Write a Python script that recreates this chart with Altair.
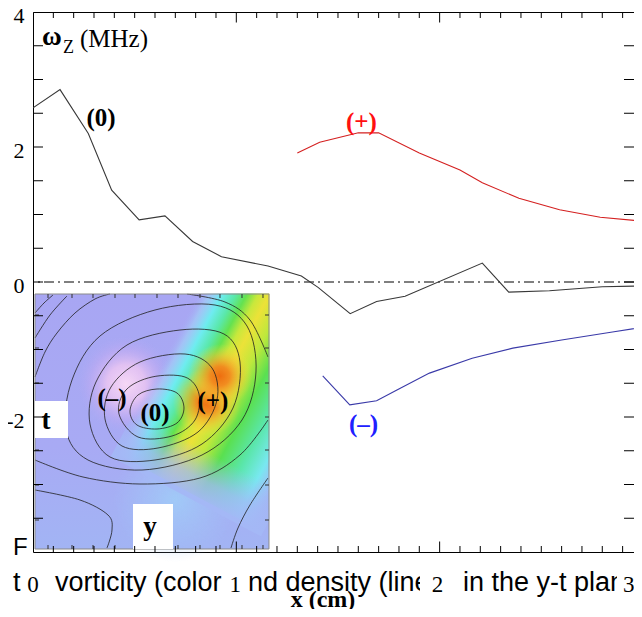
import altair as alt
import pandas as pd

# ---------------- data ----------------
zero_x = [0.0, 0.133, 0.272, 0.387, 0.522, 0.649, 0.785, 0.927, 1.156, 1.32, 1.402, 1.56, 1.69, 1.83, 2.21, 2.34, 2.54, 2.80, 2.99]
zero_y = [2.58, 2.85, 2.20, 1.36, 0.92, 0.98, 0.60, 0.375, 0.237, 0.089, -0.079, -0.47, -0.29, -0.21, 0.28, -0.15, -0.13, -0.07, -0.06]

plus_x = [1.30, 1.41, 1.60, 1.70, 1.90, 2.10, 2.21, 2.39, 2.59, 2.79, 3.0]
plus_y = [1.91, 2.07, 2.21, 2.21, 1.91, 1.66, 1.47, 1.24, 1.07, 0.96, 0.90]

minus_x = [1.425, 1.558, 1.69, 1.79, 1.95, 2.16, 2.36, 2.60, 2.85, 3.0]
minus_y = [-1.39, -1.82, -1.76, -1.60, -1.35, -1.13, -0.98, -0.86, -0.74, -0.67]

X_MAX = 2.956
x_tick_vals = [0, 1, 2]
x_tick_labels = ["0", "1", "2", "3"]
x_label_pos = [0.0, 0.995, 1.99, 2.93]
x_minor = [round(0.1 * i, 1) for i in range(30) if i % 10]
y_label_vals = [4, 2, 0, -2]
y_ticks = [-3.5, -3, -2.5, -2, -1.5, -1, -0.5, 0, 0.5, 1, 1.5, 2, 2.5, 3, 3.5]

# contour lines of the inset (reference pixel positions)
contours_closed = [
    [(130, 411), (138, 395), (157, 389), (177, 393), (184, 408), (177, 423), (157, 429), (137, 425)],
    [(119, 414), (126, 390), (152, 377), (185, 377), (199, 394), (195, 420), (172, 436), (138, 437)],
    [(105, 419), (111, 387), (140, 362), (185, 354), (212, 368), (217, 400), (198, 432), (158, 448), (122, 446)],
    [(90, 424), (96, 382), (127, 345), (180, 330), (224, 334), (240, 362), (233, 408), (202, 444), (155, 460), (110, 457)],
    [(66, 430), (72, 380), (100, 336), (155, 310), (215, 305), (247, 326), (256, 372), (242, 420), (202, 455), (142, 470), (88, 460)],
]
contours_open = [
    [(35, 313), (44, 303), (53, 295)],
    [(35, 338), (50, 315), (67, 296)],
    [(35, 377), (45, 352), (57, 333), (75, 313), (95, 299), (110, 294)],
    [(35, 460), (83, 477), (140, 484), (200, 478), (240, 455), (268, 420)],
    [(187, 294), (225, 302), (250, 320), (268, 357)],
    [(35, 490), (80, 500), (108, 515), (112, 530), (107, 548)],
    [(268, 478), (250, 505), (238, 528), (231, 548)],
]
inset_left_ticks = [315, 348, 383, 417, 450, 485, 520]
inset_bottom_ticks = [48, 72, 93, 115, 135, 157, 178, 200, 220, 242, 263]

# ---------------- geometry helpers (reference pixel -> data) ----------------
PX_X0, PX_PER_X = 33.0, 203.33
PX_Y0, PX_PER_Y = 282.0, 67.5


def ux(px):
    return (px - PX_X0) / PX_PER_X


def uy(py):
    return (PX_Y0 - py) / PX_PER_Y


XS = alt.Scale(domain=[0, X_MAX], nice=False, zero=False)
YS = alt.Scale(domain=[-4, 4], nice=False, zero=False)
YAX = alt.Axis(values=y_label_vals, ticks=False, domain=False, grid=False, title=None,
               labelFont="Liberation Serif", labelFontSize=22, labelColor="black",
               labelPadding=9, labelExpr="toString(datum.value)", labelOffset=3)


def XQ(f="x"):
    return alt.X(f"{f}:Q", scale=XS, axis=None)


def YQ(f="y"):
    return alt.Y(f"{f}:Q", scale=YS, axis=YAX)


def rect_layer(boxes, **mk):
    df = pd.DataFrame([{"x": ux(a), "x2": ux(b), "y": uy(c), "y2": uy(d)} for a, b, c, d in boxes])
    return alt.Chart(df).mark_rect(**mk).encode(x=XQ(), x2=alt.X2("x2"), y=YQ(), y2=alt.Y2("y2"))


def text_layer(items, **mk):
    df = pd.DataFrame([{"x": ux(a), "y": uy(b), "t": t} for a, b, t in items])
    return alt.Chart(df).mark_text(**mk).encode(x=XQ(), y=YQ(), text="t:N")


def stops(lst):
    return [alt.GradientStop(offset=o, color=c) for o, c in lst]


def blob(px, py, r, st):
    df = pd.DataFrame({"x": [ux(px)], "y": [uy(py)]})
    g = alt.RadialGradient(gradient="radial", x1=0.5, y1=0.5, r1=0, x2=0.5, y2=0.5, r2=0.5, stops=stops(st))
    return alt.Chart(df).mark_point(shape="circle", filled=True, fill=g, strokeWidth=0, opacity=1,
                                    size=(2 * r) ** 2).encode(x=XQ(), y=YQ())


def rotated(px, py, path, length, angle, grad):
    df = pd.DataFrame({"x": [ux(px)], "y": [uy(py)]})
    return alt.Chart(df).mark_point(shape=path, filled=True, fill=grad, strokeWidth=0, opacity=1,
                                    size=length ** 2, angle=angle).encode(x=XQ(), y=YQ())


def lines(cs, interp):
    rows = []
    for ci, c in enumerate(cs):
        for i, (a, b) in enumerate(c):
            rows.append({"c": ci, "i": i, "x": ux(a), "y": uy(b)})
    return alt.Chart(pd.DataFrame(rows)).mark_line(color="#202020", strokeWidth=0.8, interpolate=interp) \
        .encode(x=XQ(), y=YQ(), detail="c:N", order="i:Q")


layers = []

# ---------------- inset picture ----------------
INSET = (35, 269, 294, 549)
base_grad = alt.LinearGradient(gradient="linear", x1=0, y1=0, x2=0, y2=1,
                               stops=stops([(0, "#a8a6f3"), (0.6, "#a8aaf4"), (1, "#a2b4f4")]))
layers.append(rect_layer([INSET], fill=base_grad, strokeWidth=0))
layers.append(blob(175, 500, 62, [(0, "rgba(160,206,248,0.85)"), (1, "rgba(160,200,248,0)")]))
layers.append(blob(126, 384, 48, [(0, "rgba(246,216,246,1)"), (0.4, "rgba(236,198,242,0.85)"),
                                  (0.75, "rgba(200,172,242,0.4)"), (1, "rgba(180,170,244,0)")]))
band_grad = alt.LinearGradient(gradient="linear", x1=0, y1=0, x2=1, y2=0, stops=stops([
    (0.000, "rgba(166,168,244,0)"), (0.059, "rgba(160,215,248,0.55)"), (0.129, "rgb(110,236,240)"),
    (0.200, "rgb(90,232,170)"), (0.259, "rgb(100,226,80)"), (0.318, "rgb(200,232,60)"),
    (0.376, "rgb(236,226,56)"), (0.470, "rgb(190,232,60)"), (0.576, "rgb(90,224,80)"),
    (0.706, "rgb(90,230,170)"), (0.824, "rgb(120,232,240)"), (0.906, "rgba(150,206,248,0.6)"),
    (1.000, "rgba(166,168,244,0)")]))
layers.append(rotated(253.9, 368.4, "M-0.607,-1L0.607,-1L0.607,1L-0.607,1Z", 280, 28, band_grad))
fade_grad = alt.LinearGradient(gradient="linear", x1=0, y1=0, x2=0, y2=1, stops=stops([
    (0, "rgba(164,184,246,0)"), (0.55, "rgba(164,184,246,0.75)"), (1, "rgba(164,184,246,1)")]))
layers.append(rotated(197.6, 474.3, "M-1,-0.294L1,-0.294L1,0.294L-1,0.294Z", 170, 28, fade_grad))
orange = [(0, "rgba(238,110,16,1)"), (0.3, "rgba(242,135,30,0.95)"), (0.65, "rgba(244,190,50,0.55)"),
          (1, "rgba(240,230,60,0)")]
layers.append(blob(207, 402, 34, orange))
layers.append(blob(220, 376, 32, orange))

# contours
layers.append(lines(contours_closed, "cardinal-closed"))
layers.append(lines(contours_open, "cardinal"))

# masks outside the inset
layers.append(rect_layer([(269.5, 420, 190, 540), (160, 420, 190, 293.5)], fill="white", strokeWidth=0))
layers.append(rect_layer([INSET], filled=False, stroke="#8a8a8a", strokeWidth=1))

# inset ticks
tk = pd.DataFrame([{"x": ux(e), "y": uy(v)} for v in inset_left_ticks for e in (37, 267)])
layers.append(alt.Chart(tk).mark_tick(orient="horizontal", size=4, thickness=1, color="#303030", opacity=1)
              .encode(x=XQ(), y=YQ()))
tk = pd.DataFrame([{"x": ux(v), "y": uy(e)} for v in inset_bottom_ticks for e in (296, 547)])
layers.append(alt.Chart(tk).mark_tick(orient="vertical", size=4, thickness=1, color="#303030", opacity=1)
              .encode(x=XQ(), y=YQ()))

# inset labels
layers.append(rect_layer([(35, 68, 401, 438), (133, 173, 504, 549)], fill="white", strokeWidth=0))
layers.append(text_layer([(46, 421, "t"), (150, 527, "y")], font="Liberation Serif", fontSize=27,
                         fontWeight="bold", color="black", align="center", baseline="middle"))
layers.append(text_layer([(112, 398, "(–)"), (155, 413, "(0)"), (213, 401, "(+)")], font="Liberation Serif",
                         fontSize=25, fontWeight="bold", color="black", align="center", baseline="middle"))

# ---------------- main plot ----------------
layers.append(alt.Chart(pd.DataFrame({"y": [0]})).mark_rule(color="black", strokeWidth=1.1, strokeDash=[10, 4, 2, 4])
              .encode(y=YQ()))
curves = pd.concat([
    pd.DataFrame({"x": zero_x, "y": zero_y, "s": "zero"}),
    pd.DataFrame({"x": plus_x, "y": plus_y, "s": "plus"}),
    pd.DataFrame({"x": minus_x, "y": minus_y, "s": "minus"}),
])
curves["i"] = range(len(curves))
layers.append(alt.Chart(curves).mark_line(strokeWidth=1.1, clip=True).encode(
    x=XQ(), y=YQ(), detail="s:N", order="i:Q",
    color=alt.Color("s:N", scale=alt.Scale(domain=["zero", "plus", "minus"], range=["#383838", "#d42020", "#3a3aa8"]),
                    legend=None)))
layers.append(text_layer([(101, 118, "(0)")], font="Liberation Serif", fontSize=25, fontWeight="bold",
                         color="black", align="center", baseline="middle"))
layers.append(text_layer([(361.5, 122, "(+)")], font="Liberation Serif", fontSize=25, fontWeight="bold",
                         color="#ff1010", align="center", baseline="middle"))
layers.append(text_layer([(363.5, 424, "(–)")], font="Liberation Serif", fontSize=25, fontWeight="bold",
                         color="#2020ff", align="center", baseline="middle"))

# ticks (inward)
tk = pd.DataFrame([{"x": v, "y": e} for v in x_tick_vals for e in (-4, 4)])
layers.append(alt.Chart(tk).mark_tick(orient="vertical", size=21, thickness=1, color="black", opacity=1, clip=True)
              .encode(x=XQ(), y=YQ()))
tk = pd.DataFrame([{"x": v, "y": e} for v in x_minor for e in (-4, 4)])
layers.append(alt.Chart(tk).mark_tick(orient="vertical", size=12, thickness=1, color="black", opacity=1, clip=True)
              .encode(x=XQ(), y=YQ()))
tk = pd.DataFrame([{"x": e, "y": v} for v in y_ticks for e in (0, X_MAX)])
layers.append(alt.Chart(tk).mark_tick(orient="horizontal", size=20, thickness=1, color="black", opacity=1, clip=True)
              .encode(x=XQ(), y=YQ()))

# y title
layers.append(text_layer([(42, 45, "ω")], font="Liberation Serif", fontSize=27, fontWeight="bold",
                         color="black", align="left", baseline="alphabetic"))
layers.append(text_layer([(63, 53, "Z")], font="Liberation Serif", fontSize=18, color="black",
                         align="left", baseline="alphabetic"))
layers.append(text_layer([(80, 47, "(MHz)")], font="Liberation Serif", fontSize=25, color="black",
                         align="left", baseline="alphabetic"))

# ---------------- outside texts ----------------
layers.append(text_layer([(13, 555, "F")], font="Liberation Sans", fontSize=24, color="black",
                         align="left", baseline="alphabetic"))
layers.append(text_layer([(13, 591, "t"), (55, 591, "vorticity (color"), (248, 591, "nd density (lines"),
                          (463, 591, "in the y-t plane")], font="Liberation Sans", fontSize=27, color="black",
                         align="left", baseline="alphabetic"))
layers.append(rect_layer([(228, 246, 560, 597), (420, 459, 560, 597), (617, 650, 560, 597)], fill="white",
                         strokeWidth=0))
lab = pd.DataFrame({"x": x_label_pos, "y": [uy(592)] * 4, "t": x_tick_labels})
layers.append(alt.Chart(lab).mark_text(font="Liberation Serif", fontSize=23, color="black", align="center",
                                       baseline="alphabetic").encode(x=XQ(), y=YQ(), text="t:N"))
layers.append(text_layer([(323, 607, "x (cm)")], font="Liberation Serif", fontSize=24, fontWeight="bold",
                         color="black", align="center", baseline="alphabetic"))

chart = alt.LayerChart(layer=layers).properties(
    width=601, height=540,
    padding={"left": 25, "top": 4, "right": 0, "bottom": 57},
    autosize=alt.AutoSizeParams(type="none"),
    background="white",
).configure_view(stroke="black", strokeWidth=1)

chart.save("out.html", embed_options={"renderer": "svg", "actions": False})
